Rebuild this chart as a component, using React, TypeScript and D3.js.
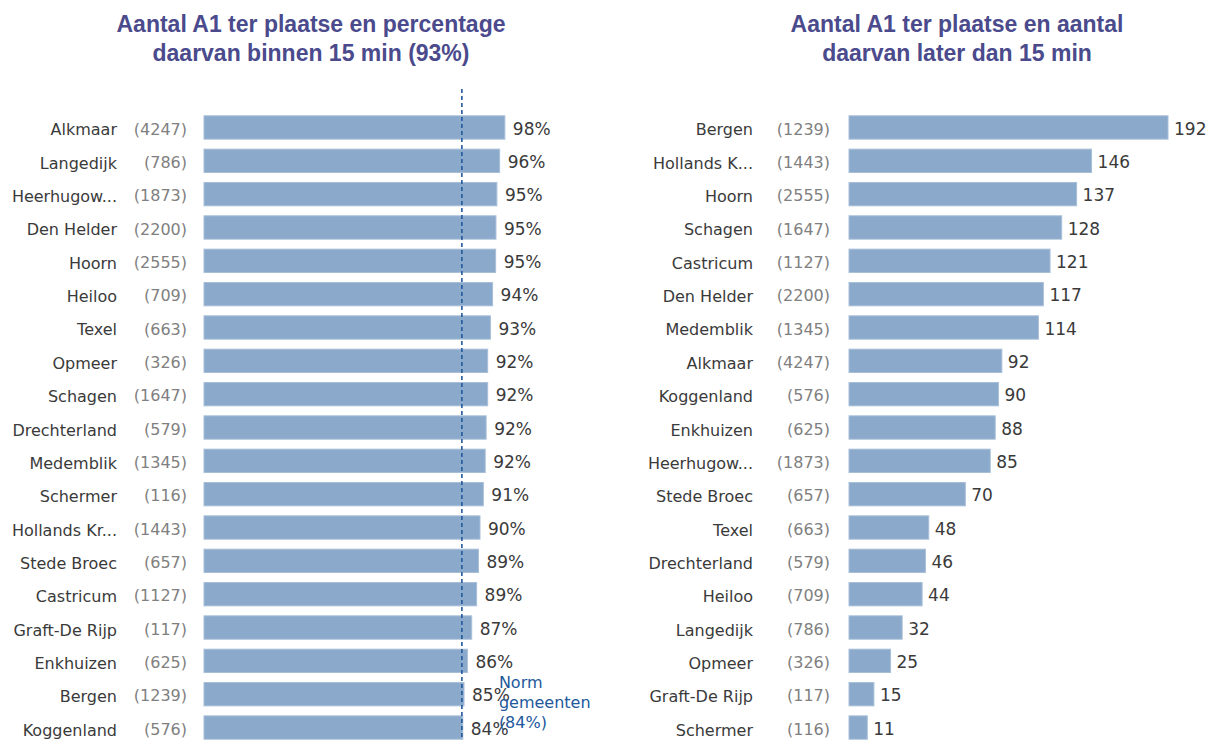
import React from "react";
import * as d3 from "d3";

const leftTitle = ["Aantal A1 ter plaatse en percentage", "daarvan binnen 15 min (93%)"];
const rightTitle = ["Aantal A1 ter plaatse en aantal", "daarvan later dan 15 min"];

const leftNames = ["Alkmaar", "Langedijk", "Heerhugow...", "Den Helder", "Hoorn", "Heiloo", "Texel", "Opmeer", "Schagen", "Drechterland", "Medemblik", "Schermer", "Hollands Kr...", "Stede Broec", "Castricum", "Graft-De Rijp", "Enkhuizen", "Bergen", "Koggenland"];
const leftCounts = [4247, 786, 1873, 2200, 2555, 709, 663, 326, 1647, 579, 1345, 116, 1443, 657, 1127, 117, 625, 1239, 576];
const leftPct = [98.0, 96.3, 95.4, 95.1, 95.0, 94.0, 93.3, 92.4, 92.4, 91.9, 91.6, 91.0, 89.9, 89.4, 88.8, 87.2, 85.8, 84.7, 84.3];

const rightNames = ["Bergen", "Hollands K...", "Hoorn", "Schagen", "Castricum", "Den Helder", "Medemblik", "Alkmaar", "Koggenland", "Enkhuizen", "Heerhugow...", "Stede Broec", "Texel", "Drechterland", "Heiloo", "Langedijk", "Opmeer", "Graft-De Rijp", "Schermer"];
const rightCounts = [1239, 1443, 2555, 1647, 1127, 2200, 1345, 4247, 576, 625, 1873, 657, 663, 579, 709, 786, 326, 117, 116];
const rightLate = [192, 146, 137, 128, 121, 117, 114, 92, 90, 88, 85, 70, 48, 46, 44, 32, 25, 15, 11];

const NORM = 84;
const normLabel = ["Norm", "gemeenten", "(84%)"];

const W = 1209;
const H = 740;
const FONT = "'DejaVu Sans', Verdana, sans-serif";
const TITLE_FONT = "'Liberation Sans', Arial, sans-serif";
const BAR = "#8ba9ca";
const BAR_STROKE = "#a8bfd9";
const TITLE_COLOR = "#4a4a8c";
const NAME_COLOR = "#3a3a3a";
const COUNT_COLOR = "#808080";
const NORM_COLOR = "#22589c";

function Panel(props: {
  names: string[];
  counts: number[];
  values: number[];
  x: d3.ScaleLinear<number, number>;
  nameX: number;
  countX: number;
  labelGap: number;
  fmt: (v: number) => string;
  title: string[];
  titleX: number;
}) {
  const { names, counts, values, x, nameX, countX, labelGap, fmt, title, titleX } = props;
  const y = d3
    .scaleBand<string>()
    .domain(names.map((_, i) => String(i)))
    .range([110.8, 744.2])
    .paddingInner(0.3)
    .paddingOuter(0.15);
  const x0 = x(0);
  return (
    <g>
      {title.map((t, i) => (
        <text
          key={i}
          x={titleX}
          y={32 + i * 29}
          textAnchor="middle"
          fontFamily={TITLE_FONT}
          fontWeight="bold"
          fontSize={23}
          fill={TITLE_COLOR}
        >
          {t}
        </text>
      ))}
      {names.map((n, i) => {
        const yy = y(String(i))!;
        const cy = yy + y.bandwidth() / 2;
        const xe = x(values[i]);
        return (
          <g key={i}>
            <rect x={x0} y={yy} width={xe - x0} height={y.bandwidth()} fill={BAR} stroke={BAR_STROKE} strokeWidth={1} />
            <text x={nameX} y={cy} dy="0.5em" textAnchor="end" fontFamily={FONT} fontSize={16} fill={NAME_COLOR}>
              {n}
            </text>
            <text x={countX} y={cy} dy="0.45em" textAnchor="end" fontFamily={FONT} fontSize={16} fill={COUNT_COLOR}>
              ({counts[i]})
            </text>
            <text x={xe + labelGap} y={cy} dy="0.42em" fontFamily={FONT} fontSize={17} fill={NAME_COLOR}>
              {fmt(values[i])}
            </text>
          </g>
        );
      })}
    </g>
  );
}

export default function App() {
  const xLeft = d3.scaleLinear().domain([0, 100]).range([204, 511]);
  const xRight = d3.scaleLinear().domain([0, d3.max(rightLate)!]).range([849, 1168]);
  const nx = xLeft(NORM);
  return (
    <svg width={W} height={H} style={{ position: "absolute", left: 0, top: 0, background: "#fff" }}>
      <Panel
        names={leftNames}
        counts={leftCounts}
        values={leftPct}
        x={xLeft}
        nameX={117}
        countX={187}
        labelGap={8}
        fmt={(v) => `${Math.round(v)}%`}
        title={leftTitle}
        titleX={311}
      />
      <Panel
        names={rightNames}
        counts={rightCounts}
        values={rightLate}
        x={xRight}
        nameX={753}
        countX={830}
        labelGap={6}
        fmt={(v) => `${v}`}
        title={rightTitle}
        titleX={957}
      />
      <line x1={nx} x2={nx} y1={89} y2={H} stroke={NORM_COLOR} strokeWidth={1.6} strokeDasharray="4 3" />
      {normLabel.map((t, i) => (
        <text key={i} x={nx + 37} y={688 + i * 20} fontFamily={FONT} fontSize={16} fill={NORM_COLOR}>
          {t}
        </text>
      ))}
    </svg>
  );
}
